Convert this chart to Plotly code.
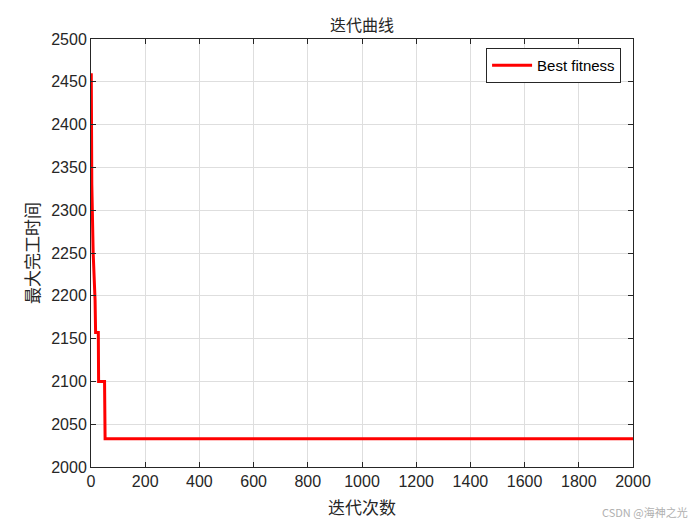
import plotly.graph_objects as go

iterations = [1, 3, 8, 15, 17, 27, 28, 50, 52, 2000]
best_fitness = [2460, 2330, 2250, 2195, 2157, 2157, 2100, 2100, 2033, 2033]
series_name = "Best fitness"
x_ticks = list(range(0, 2001, 200))
y_ticks = list(range(2000, 2501, 50))

cjk = "Noto Sans CJK SC"
num_font = "Liberation Sans, Arial"

fig = go.Figure()
fig.add_trace(go.Scatter(
    x=iterations, y=best_fitness, mode="lines", name=series_name,
    line=dict(color="#ff0000", width=3),
))

axis_common = dict(
    showline=True, linecolor="#262626", linewidth=1, mirror="ticks",
    ticks="inside", ticklen=5, tickcolor="#262626",
    showgrid=True, gridcolor="#dedede", gridwidth=1, zeroline=False,
    tickfont=dict(family=num_font, size=16, color="#262626"),
    automargin=False,
)
fig.update_xaxes(range=[0, 2000], tickvals=x_ticks, **axis_common,
                 title=dict(text="迭代次数", font=dict(family=cjk, size=17, color="#262626"), standoff=12))
fig.update_yaxes(range=[2000, 2500], tickvals=y_ticks, **axis_common,
                 title=dict(text="最大完工时间", font=dict(family=cjk, size=17, color="#262626"), standoff=7))

# page body adds an 8px offset; figure is sized to fill the rest of the window
W, H = 692, 517
fig.update_layout(
    width=W, height=H,
    margin=dict(l=83, r=67, t=31, b=58, autoexpand=False),
    paper_bgcolor="white", plot_bgcolor="white",
    title=dict(text="迭代曲线", x=0.5, xref="paper", xanchor="center", y=1 - 17 / H, yref="container",
               yanchor="middle", font=dict(family=cjk, size=16, color="#262626")),
    legend=dict(x=0.978, y=0.979, xanchor="right", yanchor="top",
                bordercolor="#262626", borderwidth=1, bgcolor="white",
                font=dict(family=num_font, size=15, color="#000000"),
                itemwidth=40),
    showlegend=True,
)
fig.add_annotation(text="CSDN @海神之光", xref="paper", yref="paper", x=1.105, y=-0.105,
                   xanchor="right", yanchor="middle", showarrow=False,
                   font=dict(family=cjk, size=11, color="#b0b0b0"))

fig.write_html("out.html")
